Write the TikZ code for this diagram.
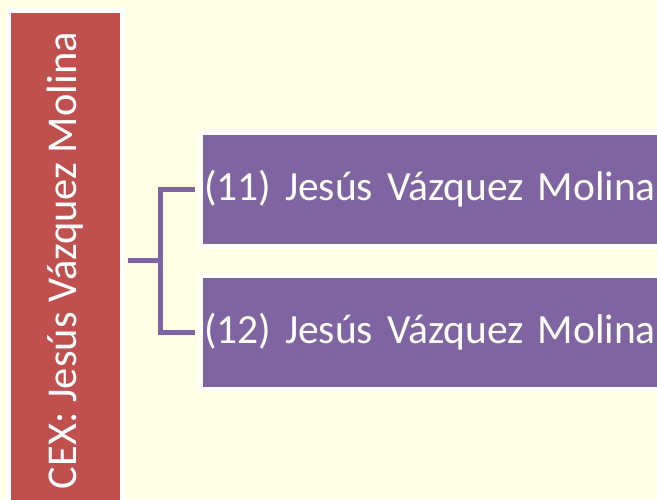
\documentclass[tikz,border=0pt]{standalone}
\usepackage{fontspec}
\setmainfont{Carlito}
\definecolor{bgyellow}{HTML}{FFFFE3}
\definecolor{cexred}{HTML}{C0504D}
\definecolor{boxpurple}{HTML}{8064A2}
\tikzset{
	cexbar/.style={fill=cexred,draw=white,line width=5pt,rotate=90,minimum width=500pt,minimum height=114pt,text=white,font=\fontsize{42.5}{48}\selectfont,inner sep=0pt},
	namebox/.style={fill=boxpurple,draw=white,line width=5pt,text width=470pt,minimum height=114pt,align=left,inner xsep=4pt,text=white,font=\fontsize{41.5}{48}\selectfont,anchor=west},
	conn/.style={draw=boxpurple,line width=5pt}
}
\begin{document}
\begin{tikzpicture}[x=1pt,y=1pt]
			\fill[bgyellow] (0,0) rectangle (657,-499);
			\useasboundingbox (0,0) rectangle (657,-499);
			\node[cexbar] at (65.5,-260.5) (cex) {CEX: Jesús Vázquez Molina};
			\node[namebox] at (197.5,-189) (n11) {\mbox{(11) Jesús Vázquez Molina}};
			\node[namebox] at (197.5,-332) (n12) {\mbox{(12) Jesús Vázquez Molina}};
			\coordinate (fork) at (160,-260.5);
			\draw[conn,shorten <=2.5pt] (cex.south)--(fork);
			\draw[conn,shorten >=2.5pt] (fork)|-(n11.west);
			\draw[conn,shorten >=2.5pt] (fork)|-(n12.west);
\end{tikzpicture}
\end{document}
